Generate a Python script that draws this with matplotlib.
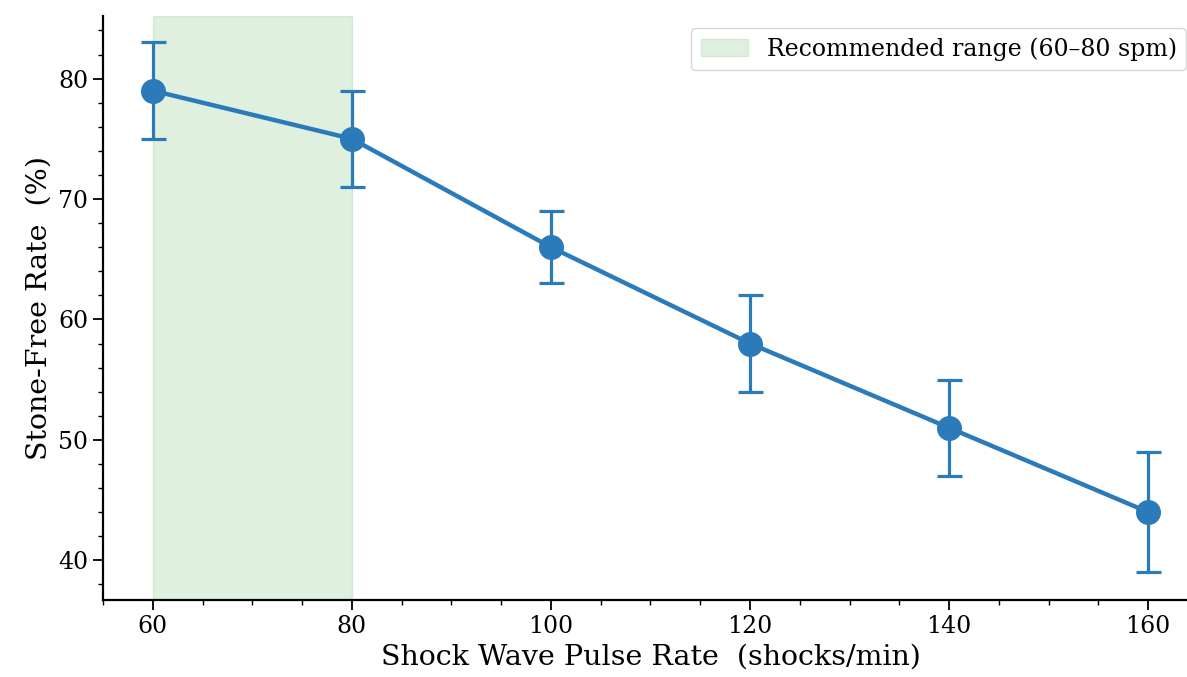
import matplotlib.pyplot as plt
from matplotlib.ticker import MultipleLocator

plt.rcParams['font.family'] = 'DejaVu Serif'

pulse_rate = [60, 80, 100, 120, 140, 160]
stone_free = [79, 75, 66, 58, 51, 44]
err_low = [4, 4, 3, 4, 4, 5]
err_high = [4, 4, 3, 4, 4, 5]

fig = plt.figure(figsize=(11.87, 6.77), dpi=100)
# axes runs a little past the right edge, like the cropped original
ax = fig.add_axes([103 / 1187, 77 / 677, 1095 / 1187, 584 / 677])

ax.axvspan(60, 80, color='tab:green', alpha=0.15, label='Recommended range (60–80 spm)')

ax.errorbar(pulse_rate, stone_free, yerr=[err_low, err_high],
            color='#2b7bba', marker='o', markersize=17, linewidth=3.2,
            elinewidth=2.3, capsize=9, capthick=2.3)

ax.set_xlim(55, 165)
ax.set_ylim(36.7, 85.2)
ax.set_xticks([60, 80, 100, 120, 140, 160])
ax.set_yticks([40, 50, 60, 70, 80])
ax.xaxis.set_minor_locator(MultipleLocator(5))
ax.yaxis.set_minor_locator(MultipleLocator(2))
ax.tick_params(labelsize=17, width=1.3, length=7)
ax.tick_params(which='minor', width=1, length=3.5)

ax.spines['top'].set_visible(False)
ax.spines['right'].set_visible(False)
ax.spines['left'].set_linewidth(1.6)
ax.spines['bottom'].set_linewidth(1.6)

ax.set_xlabel('Shock Wave Pulse Rate  (shocks/min)', fontsize=20.5)
ax.set_ylabel('Stone-Free Rate  (%)', fontsize=20.5)

ax.legend(loc='upper right', fontsize=17)

fig.savefig('out.png', dpi=100)
